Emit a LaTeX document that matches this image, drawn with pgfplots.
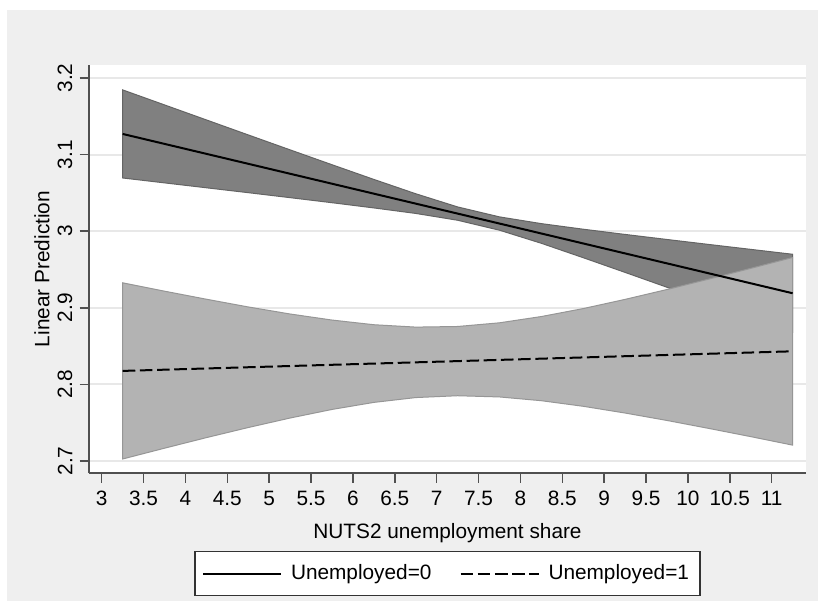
\documentclass[border=0pt]{standalone}
\usepackage{fontspec}
\setmainfont{Liberation Sans}
\usepackage{pgfplots}
\pgfplotsset{compat=1.18}

\definecolor{outerbg}{RGB}{239,239,239}
\definecolor{gridc}{RGB}{232,232,232}
\definecolor{axisc}{RGB}{80,80,80}
\definecolor{darkband}{RGB}{128,128,128}
\definecolor{darkedge}{RGB}{100,100,100}
\definecolor{lightband}{RGB}{179,179,179}
\definecolor{lightedge}{RGB}{150,150,150}

\begin{document}
\begin{tikzpicture}[x=1pt,y=1pt]
\useasboundingbox (0,0) rectangle (409,300.5);
\fill[white] (0,0) rectangle (409,300.5);
\fill[outerbg] (3.5,0) rectangle (409,295.5);
\begin{axis}[
    at={(44.5pt,64pt)}, anchor=south west,
    scale only axis,
    width=358.5pt, height=204pt,
    xmin=2.848, xmax=11.41,
    ymin=2.6843, ymax=3.217,
    axis lines*=left,
    axis line style={axisc, line width=0.75pt},
    axis background/.style={fill=white},
    tick align=outside,
    major tick length=4.75pt,
    tick style={axisc, line width=0.75pt},
    xtick={3,3.5,...,11},
    ytick={2.7,2.8,2.9,3,3.1,3.2},
    ymajorgrids,
    grid style={gridc, line width=1pt},
    /pgf/number format/assume math mode=true,
    tick label style={font=\fontsize{10.4}{12}\selectfont},
    xticklabel style={yshift=-0.8pt},
    yticklabel style={rotate=90, anchor=south},
    label style={font=\fontsize{10.4}{12}\selectfont},
    xlabel={NUTS2 unemployment share},
    ylabel={Linear Prediction},
    xlabel style={at={(axis description cs:0.5,-0.148)}, anchor=center},
    ylabel style={at={(axis description cs:-0.0656,0.5)}, anchor=center},
    legend columns=2,
    legend style={at={(0.5,-0.2463)}, anchor=center,
        draw=black!80, line width=0.75pt, fill=white,
        font=\fontsize{10.4}{12}\selectfont,
        inner xsep=3.5pt, inner ysep=4.5pt,
        nodes={inner sep=2pt},
        /tikz/every odd column/.append style={column sep=2.5pt},
        /tikz/every even column/.append style={column sep=12pt}},
    legend image code/.code={\draw[#1] (0pt,0pt) -- (39pt,0pt);},
]
% Unemployed=0 band
\addplot[fill=darkband, draw=darkedge, line width=0.5pt, forget plot] coordinates {
    (3.25,3.1845) (3.75,3.1649) (4.25,3.1453) (4.75,3.1257) (5.25,3.1062)
    (5.75,3.0868) (6.25,3.0676) (6.75,3.0489) (7.25,3.0317) (7.75,3.0187)
    (8.25,3.0099) (8.75,3.0026) (9.25,2.9958) (9.75,2.9892) (10.25,2.9827)
    (10.75,2.9763) (11.25,2.9699)
    (11.25,2.8681) (10.75,2.8877) (10.25,2.9073) (9.75,2.9268) (9.25,2.9462)
    (8.75,2.9654) (8.25,2.9842) (7.75,3.0013) (7.25,3.0143) (6.75,3.0232)
    (6.25,3.0304) (5.75,3.0372) (5.25,3.0438) (4.75,3.0503) (4.25,3.0567)
    (3.75,3.0631) (3.25,3.0695)
} -- cycle;
% Unemployed=1 band
\addplot[fill=lightband, draw=lightedge, line width=0.5pt, forget plot] coordinates {
    (3.25,2.9326) (3.75,2.9217) (4.25,2.9112) (4.75,2.9011) (5.25,2.8919)
    (5.75,2.8840) (6.25,2.8779) (6.75,2.8748) (7.25,2.8756) (7.75,2.8804)
    (8.25,2.8886) (8.75,2.8990) (9.25,2.9110) (9.75,2.9239) (10.25,2.9375)
    (10.75,2.9515) (11.25,2.9657)
    (11.25,2.7207) (10.75,2.7318) (10.25,2.7425) (9.75,2.7529) (9.25,2.7626)
    (8.75,2.7714) (8.25,2.7787) (7.75,2.7836) (7.25,2.7852) (6.75,2.7828)
    (6.25,2.7765) (5.75,2.7673) (5.25,2.7561) (4.75,2.7437) (4.25,2.7305)
    (3.75,2.7167) (3.25,2.7026)
} -- cycle;
\addplot[black, line width=1pt] coordinates {
    (3.25,3.127) (7.25,3.023) (11.25,2.919)
}; \addlegendentry{Unemployed=0}
\addplot[black, line width=1pt, dash pattern=on 6.3pt off 2.3pt] coordinates {
    (3.25,2.8176) (7.25,2.8304) (11.25,2.8432)
}; \addlegendentry{Unemployed=1}
\end{axis}
\end{tikzpicture}
\end{document}
